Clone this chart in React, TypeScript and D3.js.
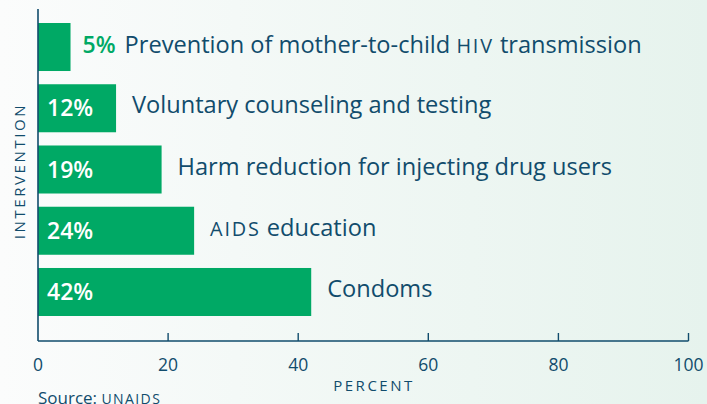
import React from "react";
import * as d3 from "d3";

const categories = [
  "Prevention of mother-to-child HIV transmission",
  "Voluntary counseling and testing",
  "Harm reduction for injecting drug users",
  "AIDS education",
  "Condoms",
];
const values = [5, 12, 19, 24, 42];
const xTicks = [0, 20, 40, 60, 80, 100];
const xTitle = "PERCENT";
const yTitle = "INTERVENTION";
const sourceLabel = "Source:";
const sourceName = "UNAIDS";

const W = 707;
const H = 404;
const GREEN = "#00a965";
const INK = "#114c6c";
const FONT = "'Open Sans', Lato, sans-serif";

function smallCaps(text: string, size: number) {
  const parts = text.split(/\b([A-Z]{2,})\b/);
  return parts.map((p, i) =>
    i % 2 === 1 ? (
      <tspan key={i} fontSize={size * 0.84} letterSpacing={1.8}>
        {p}
      </tspan>
    ) : (
      <tspan key={i}>{p}</tspan>
    )
  );
}

export default function App() {
  const x = d3.scaleLinear().domain([0, 100]).range([38, 688.5]);
  const y = d3
    .scaleBand<string>()
    .domain(categories)
    .range([23, 316])
    .paddingInner(0.216)
    .paddingOuter(0);
  const axisY = 341;
  const catSize = 23.6;
  const valSize = 23;

  return (
    <svg
      width={W}
      height={H}
      style={{ position: "absolute", left: 0, top: 0, display: "block" }}
      fontFamily={FONT}
    >
      <defs>
        <linearGradient id="bg" x1="0" y1="0" x2="1" y2="0">
          <stop offset="0" stopColor="#fbfcfc" />
          <stop offset="1" stopColor="#e6f3ed" />
        </linearGradient>
      </defs>
      <rect x={0} y={0} width={W} height={H} fill="url(#bg)" />

      {categories.map((c, i) => {
        const v = values[i];
        const y0 = y(c) as number;
        const bw = y.bandwidth();
        const cy = y0 + bw / 2;
        const inside = v >= 10;
        return (
          <g key={c}>
            <rect x={x(0)} y={y0} width={x(v) - x(0)} height={bw} fill={GREEN} />
            {inside ? (
              <>
                <text
                  x={x(0) + 9}
                  y={cy + 8}
                  fill="#ffffff"
                  fontWeight={600}
                  fontSize={valSize}
                >
                  {v}%
                </text>
                <text x={x(v) + 16} y={cy + 5} fill={INK} fontSize={catSize}>
                  {smallCaps(c, catSize)}
                </text>
              </>
            ) : (
              <text x={x(v) + 12} y={cy + 6} fontSize={catSize} fill={INK}>
                <tspan fill={GREEN} fontWeight={600} fontSize={valSize}>
                  {v}%
                </tspan>
                <tspan dx={9}>{smallCaps(c, catSize)}</tspan>
              </text>
            )}
          </g>
        );
      })}

      {/* axes */}
      <line x1={x(0)} x2={x(0)} y1={9} y2={axisY} stroke={INK} strokeWidth={1.6} />
      <line x1={x(0)} x2={x(100)} y1={axisY} y2={axisY} stroke={INK} strokeWidth={1.6} />
      {xTicks.map((t) => (
        <g key={t}>
          {t > 0 && (
            <line x1={x(t)} x2={x(t)} y1={axisY} y2={axisY - 8} stroke={INK} strokeWidth={1.4} />
          )}
          <text x={x(t)} y={371} textAnchor="middle" fill={INK} fontSize={17.5}>
            {t}
          </text>
        </g>
      ))}

      <text
        x={374}
        y={391}
        textAnchor="middle"
        fill={INK}
        fontSize={15}
        letterSpacing={2.5}
      >
        {xTitle}
      </text>
      <text
        transform={`translate(25,171) rotate(-90)`}
        textAnchor="middle"
        fill={INK}
        fontSize={15}
        letterSpacing={2.6}
      >
        {yTitle}
      </text>
      <text x={38} y={404} fill={INK} fontSize={17}>
        {sourceLabel}{" "}
        <tspan fontSize={14} letterSpacing={1.4}>
          {sourceName}
        </tspan>
      </text>
    </svg>
  );
}
